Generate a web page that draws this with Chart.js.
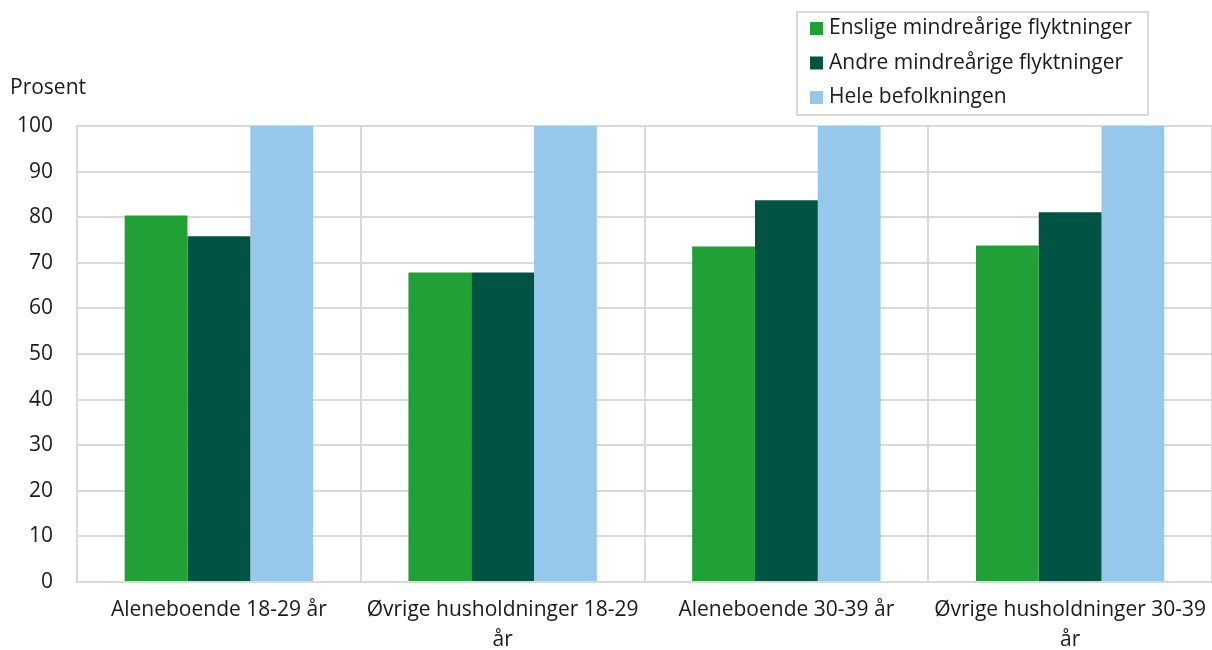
<!DOCTYPE html>
<html>
<head>
<meta charset="utf-8">
<script src="https://cdn.jsdelivr.net/npm/chart.js@4/dist/chart.umd.min.js"></script>
<style>
  html, body { margin: 0; padding: 0; background: #fff; }
  #wrap { width: 1212px; height: 650px; position: relative; }
</style>
</head>
<body>
<div id="wrap"><canvas id="c" width="1212" height="650"></canvas></div>
<script>
const categories = [
  'Aleneboende 18-29 år',
  ['Øvrige husholdninger 18-29', 'år'],
  'Aleneboende 30-39 år',
  ['Øvrige husholdninger 30-39', 'år']
];
const enslige = [80.4, 67.9, 73.6, 73.8];
const andre = [75.8, 67.9, 83.7, 81.1];
const heleBefolkningen = [100, 100, 100, 100];
const seriesNames = ['Enslige mindreårige flyktninger', 'Andre mindreårige flyktninger', 'Hele befolkningen'];
const seriesColors = ['#21a038', '#015444', '#97c7eb'];
const yTicks = [0, 10, 20, 30, 40, 50, 60, 70, 80, 90, 100];
const yTitle = 'Prosent';

const FONT = '"Open Sans", "Noto Sans", sans-serif';
const GRID = '#d9d9d9';
const FS = 21;

const extras = {
  id: 'extras',
  afterDraw(chart) {
    const ctx = chart.ctx;
    ctx.save();
    ctx.font = FS + 'px ' + FONT;
    ctx.fillStyle = '#1a1a1a';
    ctx.textBaseline = 'middle';
    ctx.textAlign = 'left';
    ctx.fillText(yTitle, 10, 88);
    const bx = 797, by = 12, bw = 351, bh = 103;
    ctx.strokeStyle = GRID;
    ctx.lineWidth = 2;
    ctx.strokeRect(bx, by, bw, bh);
    chart.data.datasets.forEach((ds, i) => {
      const cy = 28.5 + i * 34.5;
      ctx.fillStyle = ds.backgroundColor;
      ctx.fillRect(810, cy - 6.5, 13, 13);
      ctx.fillStyle = '#1a1a1a';
      ctx.font = FS + 'px ' + FONT;
      ctx.fillText(ds.label, 829, cy);
    });
    ctx.restore();
  }
};

new Chart(document.getElementById('c'), {
  type: 'bar',
  data: {
    labels: categories,
    datasets: [
      { label: seriesNames[0], data: enslige, backgroundColor: seriesColors[0] },
      { label: seriesNames[1], data: andre, backgroundColor: seriesColors[1] },
      { label: seriesNames[2], data: heleBefolkningen, backgroundColor: seriesColors[2] }
    ]
  },
  options: {
    responsive: false,
    animation: false,
    layout: { padding: { top: 126, right: 0, left: 0, bottom: 0 } },
    datasets: { bar: { categoryPercentage: 0.664, barPercentage: 1.0 } },
    plugins: { legend: { display: false }, tooltip: { enabled: false } },
    scales: {
      x: {
        grid: { color: GRID, lineWidth: 2, drawTicks: false, offset: true },
        border: { color: GRID, width: 2 },
        ticks: {
          color: '#1a1a1a',
          font: { family: FONT, size: FS, lineHeight: 1.43 },
          padding: 13,
          maxRotation: 0, autoSkip: false
        },
        afterFit(scale) { scale.height = 68; scale.paddingLeft = 0; scale.paddingRight = 0; }
      },
      y: {
        min: 0, max: 100,
        afterBuildTicks(scale) { scale.ticks = yTicks.map(v => ({ value: v })); },
        grid: { color: GRID, lineWidth: 2, drawTicks: false },
        border: { color: GRID, width: 2 },
        ticks: {
          color: '#1a1a1a',
          font: { family: FONT, size: FS },
          padding: 24
        },
        afterFit(scale) { scale.width = 77; scale.paddingTop = 0; scale.paddingBottom = 0; }
      }
    }
  },
  plugins: [extras]
});
</script>
</body>
</html>
